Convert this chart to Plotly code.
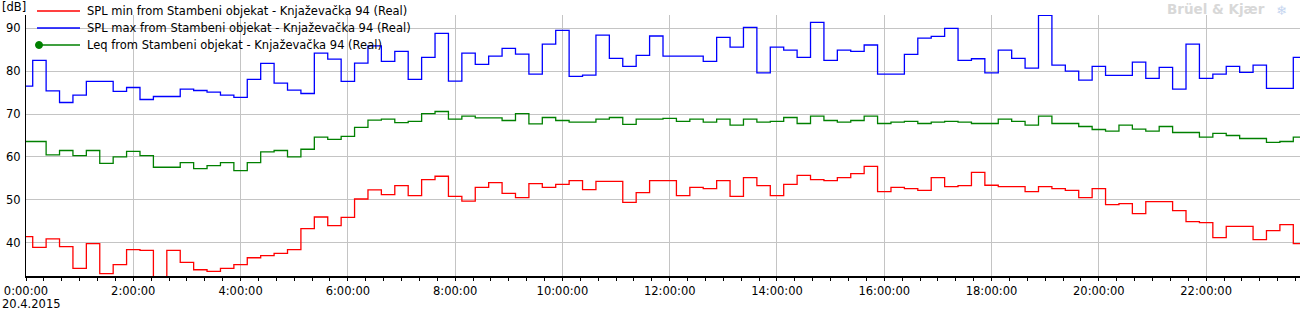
import plotly.graph_objects as go
import pandas as pd

# 15-minute samples, 20.4.2015
times = pd.date_range("2015-04-20 00:00", periods=96, freq="15min")

spl_max = [76.5, 82.5, 75.4, 72.7, 74.4, 77.6, 77.6, 75.3, 76.2, 73.4, 74.1, 74.1, 75.8, 75.5, 75.1, 74.4,
           73.9, 78.1, 81.8, 77.2, 75.6, 74.8, 84.2, 82.8, 77.6, 81.9, 85.9, 82.3, 84.6, 78.1, 83.2, 88.8,
           77.7, 84.2, 81.6, 83.5, 85.3, 84.0, 79.3, 86.3, 89.5, 78.8, 79.1, 88.4, 83.0, 81.1, 83.7, 88.2,
           83.5, 83.5, 83.5, 82.3, 87.9, 85.6, 90.2, 79.6, 85.6, 84.9, 83.2, 91.4, 82.5, 84.9, 84.6, 86.1,
           79.3, 79.3, 83.9, 87.7, 88.1, 90.0, 82.5, 82.9, 79.6, 84.9, 83.0, 80.7, 93.0, 81.4, 80.0, 77.9,
           81.1, 79.0, 79.0, 82.1, 78.3, 80.9, 75.8, 86.3, 78.3, 79.3, 81.1, 79.7, 81.4, 76.0, 76.0, 83.2]

leq = [63.6, 63.6, 60.5, 61.5, 60.3, 61.5, 58.5, 60.0, 61.3, 60.3, 57.6, 57.6, 58.7, 57.3, 58.0, 58.7,
       56.8, 58.7, 61.2, 61.5, 60.0, 61.8, 64.6, 64.1, 64.8, 66.9, 68.6, 68.8, 68.0, 68.3, 70.1, 70.6,
       68.8, 69.5, 69.1, 69.1, 68.5, 70.1, 67.7, 69.2, 68.5, 68.1, 68.1, 68.8, 69.2, 67.6, 68.8, 68.8,
       69.0, 68.3, 68.8, 68.1, 68.8, 67.4, 68.8, 68.1, 68.3, 69.2, 67.8, 69.5, 68.5, 68.1, 68.5, 69.5,
       67.8, 68.1, 68.3, 67.8, 68.1, 68.3, 68.1, 67.8, 67.8, 68.8, 68.3, 67.4, 69.5, 67.8, 67.8, 67.1,
       66.4, 66.0, 67.4, 66.5, 66.0, 67.1, 65.7, 65.7, 64.6, 65.5, 65.0, 64.3, 64.3, 63.4, 63.6, 64.6]

spl_min = [41.4, 38.9, 40.9, 39.1, 34.0, 39.8, 32.8, 34.9, 38.4, 38.2, 31.0, 38.2, 35.4, 33.7, 33.3, 34.0,
           34.9, 36.5, 37.0, 37.5, 38.4, 43.3, 46.0, 44.0, 45.9, 50.2, 52.3, 51.2, 53.3, 51.0, 54.7, 55.5,
           50.8, 49.7, 52.9, 54.0, 51.5, 50.5, 53.8, 52.9, 53.6, 54.5, 52.4, 54.3, 54.3, 49.4, 51.7, 54.5,
           54.5, 51.0, 52.9, 52.6, 54.5, 50.8, 55.2, 53.3, 51.0, 53.6, 55.7, 54.7, 54.5, 55.2, 56.1, 57.8,
           51.9, 52.9, 52.6, 52.2, 55.2, 53.1, 53.3, 56.4, 53.4, 53.1, 53.1, 51.9, 53.1, 52.6, 52.2, 50.5,
           52.6, 48.9, 49.1, 46.8, 49.6, 49.6, 47.5, 44.9, 44.7, 41.2, 43.8, 43.8, 40.7, 42.8, 44.2, 39.8]

y_ticks = [40, 50, 60, 70, 80, 90]
series_names = ["SPL min from Stambeni objekat - Knjaževačka 94 (Real)",
                "SPL max from Stambeni objekat - Knjaževačka 94 (Real)",
                "Leq from Stambeni objekat - Knjaževačka 94 (Real)"]
series_colors = ["#ff0000", "#0000ff", "#008000"]
series_values = [spl_min, spl_max, leq]

FONT = "DejaVu Sans"
W, H = 1304, 313
ML, MR, MT, MB = 26, 4, 15, 37
PW, PH = W - ML - MR, H - MT - MB


def px_x(p):
    return (p - ML) / PW


def px_y(p):
    return (H - MB - p) / PH


fig = go.Figure()
for name, color, vals in zip(series_names, series_colors, series_values):
    fig.add_trace(go.Scatter(x=times, y=vals, name=name, mode="lines",
                             line=dict(color=color, width=1.3, shape="hvh"),
                             showlegend=False))

# manual legend (matches the original's compact layout)
shapes = []
annotations = []
legend_rows = [11, 28, 45]
for row_y, name, color in zip(legend_rows, series_names, series_colors):
    shapes.append(dict(type="line", xref="paper", yref="paper",
                       x0=px_x(37), x1=px_x(80), y0=px_y(row_y), y1=px_y(row_y),
                       line=dict(color=color, width=1.3)))
    annotations.append(dict(text=name, xref="paper", yref="paper", x=px_x(85), y=px_y(row_y),
                            xanchor="left", yanchor="middle", showarrow=False,
                            font=dict(family=FONT, size=11.5, color="#000000")))
shapes.append(dict(type="circle", xref="paper", yref="paper", xsizemode="pixel", ysizemode="pixel",
                   xanchor=px_x(39), yanchor=px_y(legend_rows[2]), x0=-3.5, x1=3.5, y0=-3.5, y1=3.5,
                   fillcolor=series_colors[2], line=dict(color=series_colors[2], width=1)))

annotations += [
    dict(text="[dB]", xref="paper", yref="paper", x=px_x(0), y=px_y(7), xanchor="left", yanchor="middle",
         showarrow=False, font=dict(family=FONT, size=11.5)),
    dict(text="20.4.2015", xref="paper", yref="paper", x=px_x(0), y=px_y(304), xanchor="left",
         yanchor="middle", showarrow=False, font=dict(family=FONT, size=11.5)),
    dict(text="<b>Brüel & Kjær</b>", xref="paper", yref="paper", x=px_x(1267), y=px_y(9), xanchor="right",
         yanchor="middle", showarrow=False, font=dict(family=FONT, size=13.5, color="#d8d8d8")),
    dict(text="❄", xref="paper", yref="paper", x=px_x(1281), y=px_y(10), xanchor="center",
         yanchor="middle", showarrow=False, font=dict(family=FONT, size=13, color="#c6d6f0")),
]

fig.update_layout(
    width=W, height=H,
    margin=dict(l=ML, r=MR, t=MT, b=MB),
    paper_bgcolor="white", plot_bgcolor="white",
    font=dict(family=FONT, size=11, color="#000000"),
    showlegend=False,
    xaxis=dict(
        type="date",
        range=[times[0], times[-1]],
        dtick=2 * 3600 * 1000, tick0=times[0],
        tickformat="%-H:%M:%S",
        showgrid=True, gridcolor="#c4c4c4", gridwidth=1,
        showline=True, linecolor="#000000", linewidth=1.5,
        ticks="outside", ticklen=3, tickcolor="#000000",
        minor=dict(dtick=20 * 60 * 1000, ticks="outside", ticklen=3, tickcolor="#000000", showgrid=False),
        zeroline=False,
        tickfont=dict(family=FONT, size=11.5),
    ),
    yaxis=dict(
        range=[32.24, 93.1],
        tickvals=y_ticks,
        showgrid=True, gridcolor="#c4c4c4", gridwidth=1,
        showline=True, linecolor="#000000", linewidth=1,
        ticks="", zeroline=False,
        tickfont=dict(family=FONT, size=11.5),
        ticklabelstandoff=2,
    ),
    shapes=shapes,
    annotations=annotations,
)

fig.write_html("out.html")
